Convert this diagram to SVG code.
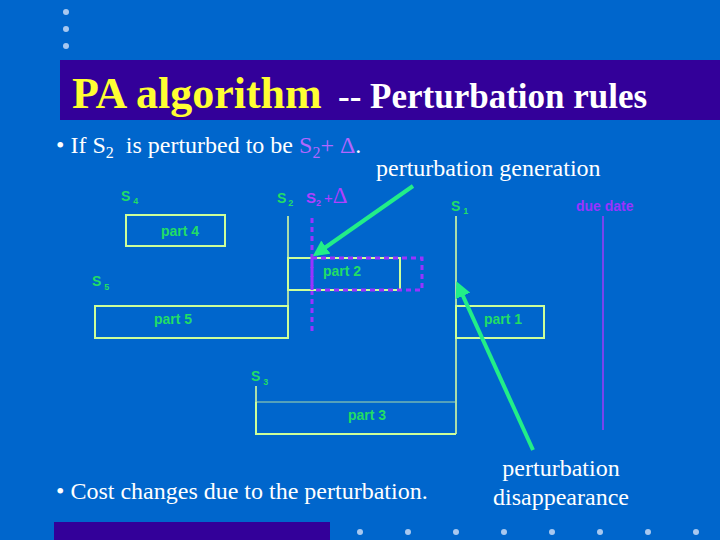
<svg xmlns="http://www.w3.org/2000/svg" width="720" height="540" viewBox="0 0 720 540">
<defs>
<style>
.ser{font-family:"Liberation Serif","Times New Roman",serif;fill:#fff}
.g{font-family:"Liberation Sans",Arial,sans-serif;font-weight:bold;fill:#22DD66;font-size:14px}
.box{fill:none;stroke:#CCFF99;stroke-width:2}
.dash{fill:none;stroke:#9933FF;stroke-width:3;stroke-dasharray:5 4}
.arw{stroke:#22EE88;stroke-width:4;fill:none}
.dot{fill:#A8C8F0}
</style>
<marker id="ah" markerWidth="4" markerHeight="4" refX="3" refY="2" orient="auto" markerUnits="strokeWidth">
<path d="M0,0 L4,2 L0,4 Z" fill="#22EE88"/>
</marker>
</defs>
<rect width="720" height="540" fill="#0066CC"/>
<g id="decor">
<circle class="dot" cx="66" cy="12" r="3"/>
<circle class="dot" cx="66" cy="29" r="3"/>
<circle class="dot" cx="66" cy="46" r="3"/>
<rect x="60" y="60" width="660" height="60" fill="#330099"/>
<rect x="54" y="522" width="276" height="18" fill="#330099"/>
<circle class="dot" cx="360" cy="532" r="3"/>
<circle class="dot" cx="408" cy="532" r="3"/>
<circle class="dot" cx="456" cy="532" r="3"/>
<circle class="dot" cx="504" cy="532" r="3"/>
<circle class="dot" cx="552" cy="532" r="3"/>
<circle class="dot" cx="600" cy="532" r="3"/>
<circle class="dot" cx="648" cy="532" r="3"/>
<circle class="dot" cx="696" cy="532" r="3"/>
</g>
<g id="title">
<text x="72" y="108" style="font-family:'Liberation Serif','Times New Roman',serif;font-weight:bold"><tspan fill="#FFFF33" font-size="44">PA algorithm</tspan><tspan fill="#fff" font-size="35" x="338">-- Perturbation rules</tspan></text>
</g>
<g id="bullet1">
<text class="ser" x="56" y="153" font-size="24" xml:space="preserve">• If S<tspan font-size="16" dy="5">2</tspan><tspan dy="-5">  is perturbed to be </tspan><tspan fill="#B266FF">S</tspan><tspan fill="#B266FF" font-size="16" dy="5">2</tspan><tspan fill="#B266FF" dy="-5">+ Δ</tspan>.</text>
</g>
<text class="ser" x="376" y="176" font-size="24">perturbation generation</text>
<g id="labels">
<text class="g" x="121" y="201" font-size="15">S<tspan font-size="9" dx="3" dy="3">4</tspan></text>
<text class="g" x="277" y="203" font-size="15">S<tspan font-size="9" dx="2" dy="3">2</tspan></text>
<text x="306" y="203" style="font-family:'Liberation Sans',Arial,sans-serif;font-weight:bold;fill:#B040FF" font-size="15">S<tspan font-size="9" dy="3">2</tspan><tspan dy="-3" dx="3" font-weight="normal">+</tspan><tspan font-size="23" font-weight="normal" font-family="'Liberation Serif',serif">Δ</tspan></text>
<text class="g" x="451" y="211" font-size="15">S<tspan font-size="9" dx="3" dy="3">1</tspan></text>
<text x="576" y="211" style="font-family:'Liberation Sans',Arial,sans-serif;font-weight:bold;fill:#9933FF" font-size="14">due date</text>
<text class="g" x="92" y="286" font-size="15">S<tspan font-size="9" dx="3" dy="4">5</tspan></text>
<text class="g" x="251" y="381" font-size="15">S<tspan font-size="9" dx="3" dy="4">3</tspan></text>
</g>
<g id="lines">
<line x1="288" y1="216" x2="288" y2="306" stroke="#AADDAA" stroke-width="2"/>
<line x1="456" y1="216" x2="456" y2="434" stroke="#AADDAA" stroke-width="2"/>
<line x1="603" y1="216" x2="603" y2="430" stroke="#7744EE" stroke-width="2"/>
<line x1="256" y1="386" x2="256" y2="402" stroke="#AADDAA" stroke-width="2"/>
<line x1="312" y1="218" x2="312" y2="332" stroke="#9933FF" stroke-width="3" stroke-dasharray="5 4"/>
</g>
<g id="part4"><rect class="box" x="126" y="215" width="99" height="31"/><text class="g" x="180" y="236" text-anchor="middle">part 4</text></g>
<g id="part2"><rect class="box" x="288" y="258" width="112" height="32"/><text class="g" x="342" y="276" text-anchor="middle">part 2</text></g>
<g id="part2p"><rect class="dash" x="312" y="258" width="110" height="32"/></g>
<g id="part5"><rect class="box" x="95" y="306" width="193" height="32"/><text class="g" x="173" y="324" text-anchor="middle">part 5</text></g>
<g id="part1"><rect class="box" x="456" y="306" width="88" height="32"/><text class="g" x="503" y="324" text-anchor="middle">part 1</text></g>
<g id="part3"><path d="M456,402 H256" stroke="#AADDAA" stroke-width="1"/><path d="M256,402 V434 H456" class="box"/><text class="g" x="367" y="420" text-anchor="middle">part 3</text></g>
<g id="connectors">
<line class="arw" x1="413" y1="186" x2="316" y2="254" marker-end="url(#ah)"/>
<line class="arw" x1="533" y1="450" x2="458" y2="285" marker-end="url(#ah)"/>
</g>
<g id="bullet2">
<text class="ser" x="56" y="499" font-size="24">• Cost changes due to the perturbation.</text>
</g>
<g id="disappear">
<text class="ser" x="561" y="476" font-size="24" text-anchor="middle">perturbation</text>
<text class="ser" x="561" y="505" font-size="24" text-anchor="middle">disappearance</text>
</g>
</svg>
